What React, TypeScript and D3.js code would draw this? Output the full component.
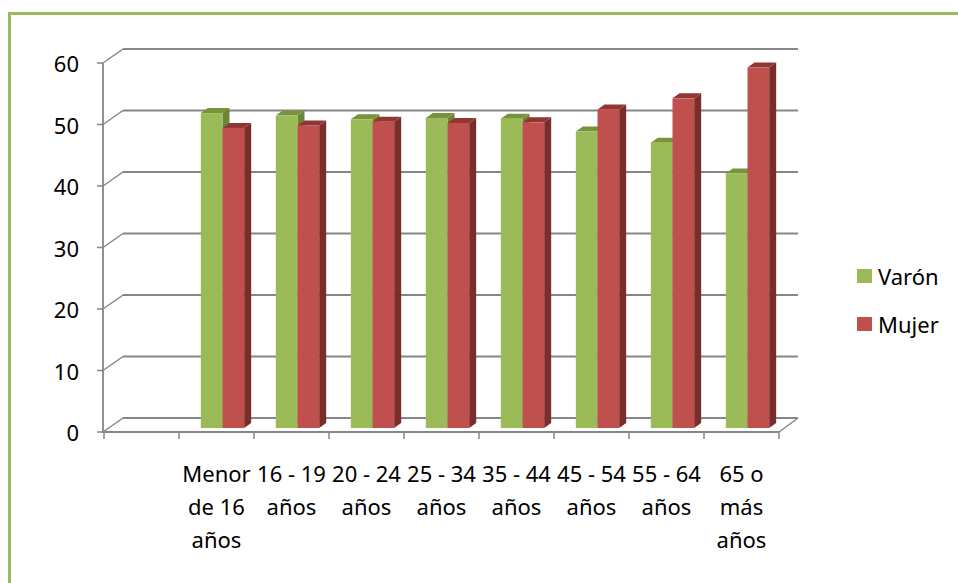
import React from 'react';
import * as d3 from 'd3';

// age groups (the first slot is empty in the original chart)
const categories: string[][] = [
  [],
  ['Menor', 'de 16', 'años'],
  ['16 - 19', 'años'],
  ['20 - 24', 'años'],
  ['25 - 34', 'años'],
  ['35 - 44', 'años'],
  ['45 - 54', 'años'],
  ['55 - 64', 'años'],
  ['65 o', 'más', 'años'],
];
const varon: (number | null)[] = [null, 51.2, 50.8, 50.2, 50.4, 50.3, 48.2, 46.4, 41.4];
const mujer: (number | null)[] = [null, 48.8, 49.2, 49.8, 49.6, 49.7, 51.8, 53.6, 58.6];
const yTicks = [0, 10, 20, 30, 40, 50, 60];

const series = [
  { name: 'Varón', values: varon, front: '#9BBB59', top: '#77933C', side: '#6A8535' },
  { name: 'Mujer', values: mujer, front: '#C0504D', top: '#923633', side: '#7A2E2C' },
];

const W = 958;
const H = 583;
const FONT = '"Noto Sans", sans-serif';

export default function App() {
  // front plane of the 3D box
  const x0 = 104;
  const x1 = 779;
  const x = d3.scaleBand<number>().domain(d3.range(categories.length)).range([x0, x1]);
  const y = d3.scaleLinear().domain([0, 60]).range([432, 63]);

  // depth offsets: back wall and bar plane
  const back = { dx: 19, dy: -14 };
  const barShift = { dx: 6, dy: -4 };
  const barDepth = { dx: 7, dy: -5 };

  const inner = d3
    .scaleBand<number>()
    .domain(d3.range(series.length))
    .range([0, x.bandwidth()])
    .paddingOuter(0.73)
    .paddingInner(0);
  const bw = inner.bandwidth();
  const grid = '#868686';

  return (
    <svg
      width={W}
      height={H}
      style={{ position: 'absolute', left: 0, top: 0, background: '#fff' }}
      fontFamily={FONT}
    >
      {/* outer border */}
      <path d={`M9.5,${H} V13.5 H${W}`} fill="none" stroke="#9BBB59" strokeWidth={3} />

      {/* back wall gridlines + side wall diagonals */}
      {yTicks.map((t) => (
        <g key={t}>
          <line
            x1={x0 + back.dx}
            x2={x1 + back.dx}
            y1={y(t) + back.dy}
            y2={y(t) + back.dy}
            stroke={grid}
            strokeWidth={1.8}
          />
          <line
            x1={x0 - 1}
            x2={x0 + back.dx}
            y1={y(t)}
            y2={y(t) + back.dy}
            stroke={grid}
            strokeWidth={1.5}
          />
          <line x1={x0 - 7} x2={x0 - 1} y1={y(t)} y2={y(t)} stroke={grid} strokeWidth={1.5} />
          <text
            x={79}
            y={y(t)}
            textAnchor="end"
            dominantBaseline="central"
            fontSize={22}
            fill="#000"
          >
            {t}
          </text>
        </g>
      ))}

      {/* floor */}
      <line x1={x0 - 1} x2={x0 - 1} y1={y(60)} y2={y(0) + 1} stroke={grid} strokeWidth={1.8} />
      <line x1={x0 - 1} x2={x1} y1={y(0)} y2={y(0)} stroke={grid} strokeWidth={1.8} />
      <line
        x1={x1}
        x2={x1 + back.dx}
        y1={y(0)}
        y2={y(0) + back.dy}
        stroke={grid}
        strokeWidth={1.5}
      />
      {d3.range(categories.length + 1).map((i) => {
        const xx = i < categories.length ? x(i)! : x1;
        return (
          <line key={i} x1={xx} x2={xx} y1={y(0)} y2={y(0) + 7} stroke={grid} strokeWidth={1.5} />
        );
      })}

      {/* bars */}
      {categories.map((_, ci) => (
        <g key={ci}>
          {series.map((s, si) => {
            const v = s.values[ci];
            if (v == null) return null;
            const bx = x(ci)! + inner(si)! + barShift.dx;
            const by0 = y(0) + barShift.dy;
            const by = y(v) + barShift.dy;
            const { dx, dy } = barDepth;
            return (
              <g key={si}>
                <path
                  d={`M${bx + bw},${by} L${bx + bw + dx},${by + dy} L${bx + bw + dx},${by0 + dy} L${bx + bw},${by0} Z`}
                  fill={s.side}
                />
                <path
                  d={`M${bx},${by} L${bx + dx},${by + dy} L${bx + bw + dx},${by + dy} L${bx + bw},${by} Z`}
                  fill={s.top}
                />
                <rect x={bx} y={by} width={bw} height={by0 - by} fill={s.front} />
              </g>
            );
          })}
        </g>
      ))}

      {/* category labels */}
      {categories.map((lines, ci) => (
        <text
          key={ci}
          x={x(ci)! + x.bandwidth() / 2}
          y={482}
          textAnchor="middle"
          fontSize={22}
          fill="#000"
        >
          {lines.map((l, li) => (
            <tspan key={li} x={x(ci)! + x.bandwidth() / 2} dy={li === 0 ? 0 : 33}>
              {l}
            </tspan>
          ))}
        </text>
      ))}

      {/* legend */}
      {series.map((s, i) => (
        <g key={s.name} transform={`translate(857,${269 + i * 48})`}>
          <rect width={15} height={14} fill={s.front} />
          <text x={21} y={7} dominantBaseline="central" fontSize={22} fill="#000">
            {s.name}
          </text>
        </g>
      ))}
    </svg>
  );
}
